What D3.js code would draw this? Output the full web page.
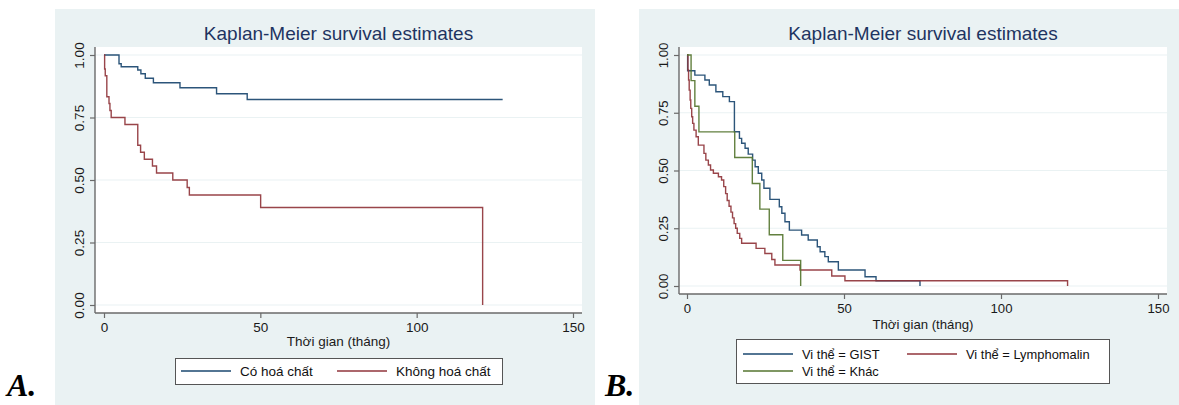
<!DOCTYPE html>
<html>
<head>
<meta charset="utf-8">
<script src="https://cdn.jsdelivr.net/npm/d3@7"></script>
<style>
  body { margin: 0; background: #fff; }
  svg { display: block; font-family: "Liberation Sans", Arial, sans-serif; }
</style>
</head>
<body>
<div id="chart"></div>
<script>
//--- Daten ------------------------------------------------------------------------------------------------ //

var titleText = 'Kaplan-Meier survival estimates';
var xTitle = 'Thời gian (tháng)';
var xTicks = [0, 50, 100, 150];
var yTicks = [0, 0.25, 0.5, 0.75, 1];

// Panel A
var namesA = ['Có hoá chất', 'Không hoá chất'];
var timeA_co = [0, 4.8, 5.5, 10.8, 11.8, 13.2, 15.8, 24.3, 36, 45.8, 127.5];
var survA_co = [1, 0.965, 0.953, 0.94, 0.925, 0.907, 0.889, 0.869, 0.845, 0.822, 0.822];
var timeA_khong = [0, 0.2, 0.4, 0.9, 1.6, 1.9, 2.3, 6.7, 10.8, 11.7, 12.9, 15.5, 16.8, 22, 26.6, 27.3, 50.1, 121.1];
var survA_khong = [1, 0.944, 0.917, 0.833, 0.806, 0.778, 0.75, 0.722, 0.639, 0.611, 0.583, 0.556, 0.528, 0.5, 0.47, 0.44, 0.39, 0];

// Panel B
var namesB = ['Vi thể = GIST', 'Vi thể = Lymphomalin', 'Vi thể = Khác'];
var timeB_gist = [0, 0.2, 2.5, 5.7, 7.1, 9.2, 11.4, 13.5, 15.1, 16.7, 17.4, 18.5, 19.5, 20.9, 21.7, 22.7, 23.8, 24.5, 26.4,
                  29.4, 30.2, 31.2, 32.6, 36.5, 38.6, 41.5, 42.4, 43.9, 45, 48.2, 56.7, 60.2, 74.2];
var survB_gist = [1, 0.932, 0.913, 0.892, 0.87, 0.841, 0.82, 0.798, 0.668, 0.639, 0.618, 0.596, 0.571, 0.545, 0.516, 0.488, 0.459, 0.423, 0.375,
                  0.343, 0.315, 0.278, 0.242, 0.221, 0.199, 0.17, 0.148, 0.127, 0.105, 0.069, 0.04, 0.023, 0];
var timeB_lympho = [0, 0.3, 0.5, 0.7, 1, 1.2, 1.5, 1.8, 2.2, 2.9, 3.6, 5.4, 6, 6.8, 7.5, 8.4, 10, 11, 11.7, 12.3, 12.8, 13.4,
                    14, 14.5, 15, 15.5, 16, 16.8, 17.4, 22, 24.8, 27, 28, 36, 46.1, 50.3, 121.2];
var survB_lympho = [1, 0.935, 0.892, 0.848, 0.805, 0.769, 0.733, 0.704, 0.675, 0.646, 0.61, 0.574, 0.545, 0.524, 0.502, 0.488, 0.473, 0.459, 0.43, 0.4, 0.37, 0.345,
                    0.32, 0.295, 0.27, 0.25, 0.228, 0.206, 0.185, 0.163, 0.141, 0.115, 0.091, 0.069, 0.043, 0.023, 0];
var timeB_khac = [0, 1.3, 2.5, 3.8, 15.2, 20.8, 23.2, 26.2, 30.5, 36.2];
var survB_khac = [1, 0.889, 0.778, 0.667, 0.556, 0.444, 0.333, 0.222, 0.111, 0];

//--- Farben ------------------------------------------------------------------------------------------------ //

var cNavy = '#1a476f', cMaroon = '#90353b', cGreen = '#55752f';
var cBg = '#eaf2f3', cGrid = '#eaf2f3', cAxis = '#6a6a6a', cTitle = '#1e3461';

function zipSeries(t, s) {
    return t.map(function (d, i) { return { t: d, s: s[i] }; });
}

var svg = d3.select('#chart').append('svg')
    .attr('width', 1179)
    .attr('height', 405);

//--- Panel zeichnen ---------------------------------------------------------------------------------------- //

function drawPanel(p) {
    var g = svg.append('g');

    g.append('rect')
        .attr('x', p.bg[0]).attr('y', p.bg[1])
        .attr('width', p.bg[2]).attr('height', p.bg[3])
        .attr('fill', cBg);

    g.append('rect')
        .attr('x', p.plot[0]).attr('y', p.plot[1])
        .attr('width', p.plot[2]).attr('height', p.plot[3])
        .attr('fill', '#fff');

    var x = d3.scaleLinear().domain([0, 150]).range(p.xr);
    var y = d3.scaleLinear().domain([0, 1]).range(p.yr);
    var left = p.plot[0], bottom = p.plot[1] + p.plot[3], right = p.plot[0] + p.plot[2];

    // gridlines
    g.selectAll('.grid').data(yTicks).enter().append('line')
        .attr('x1', left).attr('x2', right)
        .attr('y1', function (d) { return y(d); })
        .attr('y2', function (d) { return y(d); })
        .attr('stroke', cGrid).attr('stroke-width', 1.2);

    // title
    g.append('text')
        .attr('x', (left + right) / 2).attr('y', 40)
        .attr('text-anchor', 'middle')
        .attr('font-size', 19)
        .attr('fill', cTitle)
        .text(titleText);

    // y axis
    var yAxis = g.append('g')
        .attr('transform', 'translate(' + left + ',0)')
        .call(d3.axisLeft(y).tickValues(yTicks).tickFormat(d3.format('.2f')).tickSize(5).tickSizeOuter(0));
    yAxis.select('.domain').attr('stroke', cAxis).attr('stroke-width', 1.4)
        .attr('d', 'M0,' + p.plot[1] + 'V' + bottom);
    yAxis.selectAll('.tick line').attr('stroke', cAxis).attr('stroke-width', 1.2);
    yAxis.selectAll('.tick text')
        .attr('font-size', p.fs).attr('fill', '#1a1a1a')
        .attr('font-family', '"Liberation Sans", Arial, sans-serif')
        .attr('text-anchor', 'middle')
        .attr('dy', null)
        .attr('x', null)
        .attr('transform', 'translate(' + (-p.ylabOff) + ',0) rotate(-90)');

    // x axis
    var xAxis = g.append('g')
        .attr('transform', 'translate(0,' + bottom + ')')
        .call(d3.axisBottom(x).tickValues(xTicks).tickFormat(d3.format('d')).tickSize(5).tickSizeOuter(0));
    xAxis.select('.domain').attr('stroke', cAxis).attr('stroke-width', 1.4)
        .attr('d', 'M' + left + ',0H' + right);
    xAxis.selectAll('.tick line').attr('stroke', cAxis).attr('stroke-width', 1.2);
    xAxis.selectAll('.tick text')
        .attr('font-size', p.fs).attr('fill', '#1a1a1a')
        .attr('font-family', '"Liberation Sans", Arial, sans-serif')
        .attr('dy', null)
        .attr('y', p.xlabOff);

    g.append('text')
        .attr('x', (left + right) / 2).attr('y', p.xTitleY)
        .attr('text-anchor', 'middle')
        .attr('font-size', p.fs).attr('fill', '#1a1a1a')
        .text(xTitle);

    // curves
    var line = d3.line()
        .x(function (d) { return x(d.t); })
        .y(function (d) { return y(d.s); })
        .curve(d3.curveStepAfter);

    p.series.forEach(function (s) {
        g.append('path')
            .datum(zipSeries(s.t, s.s))
            .attr('d', line)
            .attr('fill', 'none')
            .attr('stroke', s.color)
            .attr('stroke-width', 1.4)
            .attr('stroke-opacity', 0.92);
    });

    // legend
    var lg = p.legend;
    g.append('rect')
        .attr('x', lg.box[0] + 0.5).attr('y', lg.box[1] + 0.5)
        .attr('width', lg.box[2]).attr('height', lg.box[3])
        .attr('fill', '#fff').attr('stroke', '#555').attr('stroke-width', 1);

    lg.items.forEach(function (it) {
        g.append('line')
            .attr('x1', it.x).attr('x2', it.x + 50)
            .attr('y1', it.y).attr('y2', it.y)
            .attr('stroke', it.color).attr('stroke-width', 1.3);
        g.append('text')
            .attr('x', it.x + 59).attr('y', it.y + 4.8)
            .attr('font-size', lg.fs).attr('fill', '#111')
            .text(it.name);
    });

    // panel label
    g.append('text')
        .attr('x', p.label[0]).attr('y', p.label[1])
        .attr('font-family', '"Liberation Serif", "Times New Roman", serif')
        .attr('font-weight', 'bold').attr('font-style', 'italic')
        .attr('font-size', 32).attr('fill', '#000')
        .text(p.labelText);
}

drawPanel({
    bg: [55, 9, 540, 396],
    plot: [95, 47, 487, 266],
    xr: [104, 573],
    yr: [305, 55],
    fs: 13.5,
    ylabOff: 11,
    xlabOff: 19,
    xTitleY: 346,
    series: [
        { t: timeA_co, s: survA_co, color: cNavy },
        { t: timeA_khong, s: survA_khong, color: cMaroon }
    ],
    legend: {
        fs: 13.5,
        box: [175, 358, 327, 26],
        items: [
            { x: 181, y: 371, name: namesA[0], color: cNavy },
            { x: 337, y: 371, name: namesA[1], color: cMaroon }
        ]
    },
    label: [7, 396],
    labelText: 'A.'
});

drawPanel({
    bg: [639, 9, 540, 396],
    plot: [679, 47, 488, 247],
    xr: [687, 1158],
    yr: [286, 55],
    fs: 13.2,
    ylabOff: 11,
    xlabOff: 19,
    xTitleY: 329,
    series: [
        { t: timeB_gist, s: survB_gist, color: cNavy },
        { t: timeB_lympho, s: survB_lympho, color: cMaroon },
        { t: timeB_khac, s: survB_khac, color: cGreen }
    ],
    legend: {
        fs: 12.9,
        box: [736, 339, 373, 44],
        items: [
            { x: 743, y: 354, name: namesB[0], color: cNavy },
            { x: 907, y: 354, name: namesB[1], color: cMaroon },
            { x: 743, y: 371, name: namesB[2], color: cGreen }
        ]
    },
    label: [605, 396],
    labelText: 'B.'
});
</script>
</body>
</html>
